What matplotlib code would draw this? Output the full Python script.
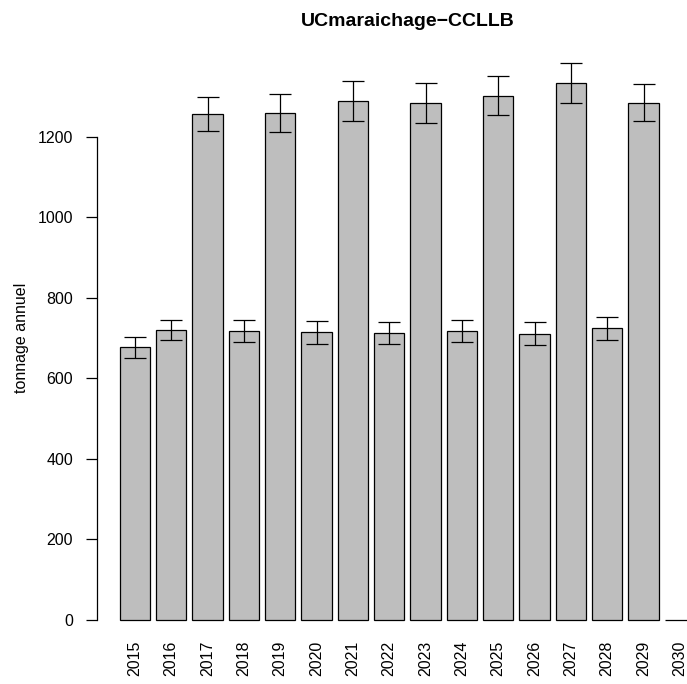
import numpy as np
import matplotlib
matplotlib.use("Agg")
import matplotlib.pyplot as plt

plt.rcParams['font.family'] = ['Liberation Sans', 'DejaVu Sans']

# data
years = [str(y) for y in range(2015, 2031)]
tonnage = [677, 720, 1256, 717, 1259, 714, 1289, 712, 1284, 718, 1302, 711, 1334, 724, 1284, 0]
erreur = [26, 26, 42, 27, 48, 29, 50, 27, 50, 27, 48, 28, 50, 28, 46, 0]
title = "UCmaraichage\u2212CCLLB"
ylabel = "tonnage annuel"
yticks = [0, 200, 400, 600, 800, 1000, 1200]

W, H = 687, 684
fig = plt.figure(figsize=(W / 100, H / 100), dpi=100)

# plot region in pixels (R barplot style, right side runs off the device)
left_px, right_px = 96.7, 718.0
top_px, bottom_px = 33.6, 630.0
ax = fig.add_axes([left_px / W, 1 - bottom_px / H,
                   (right_px - left_px) / W, (bottom_px - top_px) / H])

x = 0.7 + 1.2 * np.arange(len(years))
ax.bar(x, tonnage, width=1.0, color="#BEBEBE", edgecolor="black", linewidth=0.9)

vals = np.array(tonnage, dtype=float)
errs = np.array(erreur, dtype=float)
m = errs > 0
ax.errorbar(x[m], vals[m], yerr=errs[m], fmt="none", ecolor="black",
            elinewidth=0.9, capsize=8, capthick=0.9)

# axis limits matching the reference pixel scale
px_per_unit = 483.3 / 1200
ax.set_xlim(0.2 - 0.04 * 19, 19.2 + 0.04 * 19)
ax.set_ylim(-(bottom_px - 620) / px_per_unit, (620 - top_px) / px_per_unit)

for s in ["top", "right", "bottom"]:
    ax.spines[s].set_visible(False)
ax.spines["left"].set_bounds(0, 1200)
ax.spines["left"].set_linewidth(0.9)

ax.set_yticks(yticks)
ax.set_yticklabels([str(t) for t in yticks])
ax.tick_params(axis="y", length=7.9, width=0.9, pad=9, labelsize=11.5)

ax.set_xticks(x)
ax.set_xticklabels(years, rotation=90, va="top")
ax.tick_params(axis="x", length=0, pad=7.5, labelsize=11.5)

ax.set_ylabel(ylabel, fontsize=11.5)
ax.yaxis.set_label_coords(29 / W, 1 - 338 / H, transform=fig.transFigure)

ax.set_title(title, fontsize=14, fontweight="bold", pad=5.7)

fig.savefig("out.png", dpi=100)
